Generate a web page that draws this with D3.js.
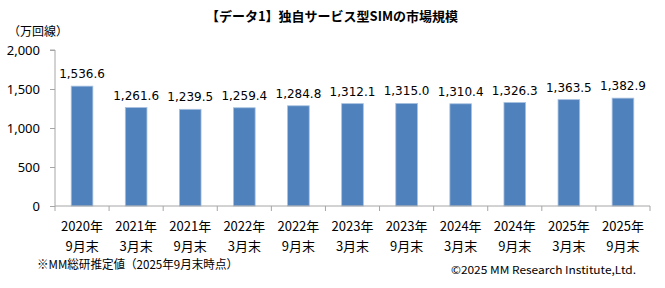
<!DOCTYPE html>
<html>
<head>
<meta charset="utf-8">
<script src="https://cdn.jsdelivr.net/npm/d3@7"></script>
<style>
  body { margin: 0; background: #fff; }
  text { font-family: "Noto Sans CJK JP", "DejaVu Sans", sans-serif; fill: #000; }
</style>
</head>
<body>
<div id="chart"></div>
<script>
// data
var years = ["2020年", "2021年", "2021年", "2022年", "2022年", "2023年", "2023年", "2024年", "2024年", "2025年", "2025年"];
var months = ["9月末", "3月末", "9月末", "3月末", "9月末", "3月末", "9月末", "3月末", "9月末", "3月末", "9月末"];
var values = [1536.6, 1261.6, 1239.5, 1259.4, 1284.8, 1312.1, 1315.0, 1310.4, 1326.3, 1363.5, 1382.9];
var yTicks = [0, 500, 1000, 1500, 2000];

var width = 665, height = 288;
// plot area (window.top is reserved, so keep these in an object)
var plot = { left: 55, right: 650, top: 50, bottom: 206 };

var svg = d3.select("#chart").append("svg")
    .attr("width", width)
    .attr("height", height);

var idx = d3.range(values.length);

var xScale = d3.scaleBand()
    .domain(idx)
    .range([plot.left, plot.right])
    .paddingInner(0.6)
    .paddingOuter(0.3);

var yScale = d3.scaleLinear()
    .domain([0, 2000])
    .range([plot.bottom, plot.top]);

// title
svg.append("text")
    .attr("x", 332)
    .attr("y", 21)
    .attr("text-anchor", "middle")
    .style("font-size", "13px")
    .style("font-weight", "bold")
    .text("【データ1】独自サービス型SIMの市場規模");

svg.append("text")
    .attr("x", 8)
    .attr("y", 36)
    .style("font-size", "12px")
    .text("（万回線）");

// bars
svg.selectAll("rect.bar")
    .data(idx)
    .enter().append("rect")
    .attr("class", "bar")
    .attr("x", function(i){ return xScale(i); })
    .attr("width", xScale.bandwidth())
    .attr("y", function(i){ return yScale(values[i]); })
    .attr("height", function(i){ return plot.bottom - yScale(values[i]); })
    .attr("fill", "#4f81bd")
    .attr("stroke", "#a7c0de")
    .attr("stroke-width", 0.8);

// value labels
svg.selectAll("text.val")
    .data(idx)
    .enter().append("text")
    .attr("class", "val")
    .attr("x", function(i){ return xScale(i) + xScale.bandwidth() / 2; })
    .attr("y", function(i){ return yScale(values[i]) - 8; })
    .attr("text-anchor", "middle")
    .style("font-family", "'DejaVu Sans', Verdana, sans-serif")
    .style("font-size", "12px")
    .text(function(i){ return d3.format(",.1f")(values[i]); });

// y axis
var yAxis = svg.append("g")
    .attr("transform", "translate(" + plot.left + ",0)")
    .call(d3.axisLeft(yScale).tickValues(yTicks).tickSize(5).tickPadding(10).tickFormat(d3.format(",")));
yAxis.selectAll("path, line").attr("stroke", "#a6a6a6");
yAxis.selectAll("text")
    .style("font-family", "'Noto Sans', sans-serif")
    .style("font-size", "13px")
    .attr("fill", "#000");
yAxis.select(".domain").attr("d", "M-5," + plot.top + "H0V" + plot.bottom);

// x axis: ticks at band boundaries
var xAxis = svg.append("g")
    .attr("transform", "translate(0," + plot.bottom + ")");
xAxis.append("line")
    .attr("x1", plot.left).attr("x2", plot.right)
    .attr("stroke", "#a6a6a6");
xAxis.selectAll("line.tk")
    .data(d3.range(values.length + 1))
    .enter().append("line")
    .attr("class", "tk")
    .attr("x1", function(i){ return plot.left + i * xScale.step(); })
    .attr("x2", function(i){ return plot.left + i * xScale.step(); })
    .attr("y1", 0).attr("y2", 5)
    .attr("stroke", "#a6a6a6");

svg.selectAll("text.yr")
    .data(idx)
    .enter().append("text")
    .attr("class", "yr")
    .attr("x", function(i){ return xScale(i) + xScale.bandwidth() / 2; })
    .attr("y", 231)
    .attr("text-anchor", "middle")
    .style("font-size", "13px")
    .text(function(i){ return years[i]; });

svg.selectAll("text.mo")
    .data(idx)
    .enter().append("text")
    .attr("class", "mo")
    .attr("x", function(i){ return xScale(i) + xScale.bandwidth() / 2; })
    .attr("y", 250.5)
    .attr("text-anchor", "middle")
    .style("font-size", "13px")
    .text(function(i){ return months[i]; });

// notes
svg.append("text")
    .attr("x", 37)
    .attr("y", 269)
    .style("font-size", "12px")
    .attr("textLength", 201)
    .attr("lengthAdjust", "spacingAndGlyphs")
    .text("※MM総研推定値（2025年9月末時点）");

svg.append("text")
    .attr("x", 451)
    .attr("y", 274)
    .style("font-size", "11px")
    .attr("textLength", 185)
    .attr("lengthAdjust", "spacingAndGlyphs")
    .text("©2025 MM Research Institute,Ltd.");
</script>
</body>
</html>
